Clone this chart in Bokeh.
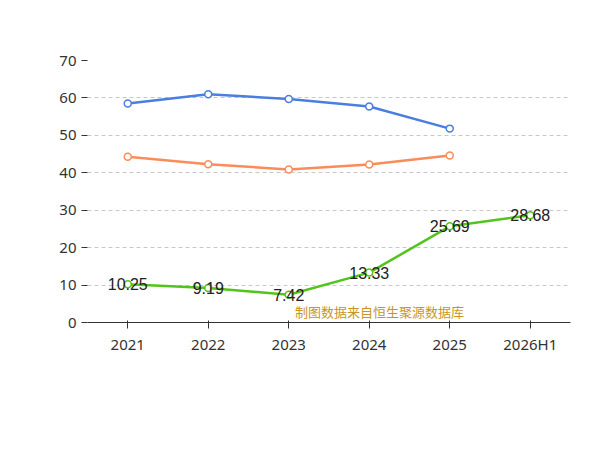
from bokeh.plotting import figure
from bokeh.models import Range1d, Label, Legend, LegendItem, ColumnDataSource, FixedTicker
from bokeh.embed import file_html
from bokeh.resources import INLINE

years = ["2021", "2022", "2023", "2024", "2025", "2026H1"]
company = [10.25, 9.19, 7.42, 13.33, 25.69, 28.68]
ind_avg = [58.5, 61.0, 59.7, 57.7, 51.8]
ind_med = [44.3, 42.3, 40.9, 42.2, 44.6]

p = figure(width=584, height=434, x_range=years, y_range=Range1d(0, 70),
           output_backend="svg", toolbar_location=None,
           min_border_left=87, min_border_right=14, min_border_top=60, min_border_bottom=112)
p.outline_line_color = None
p.xgrid.visible = False
p.ygrid.grid_line_dash = "4 3"
p.ygrid.grid_line_color = "#c8c8c8"
p.yaxis.ticker = FixedTicker(ticks=list(range(0, 71, 10)))
for ax in (p.xaxis, p.yaxis):
    ax.major_label_text_font = "Noto Sans"
    ax.major_label_text_font_size = "15px"
    ax.major_label_text_color = "#333333"
    ax.axis_line_color = "#333333"
    ax.major_tick_line_color = "#333333"
    ax.minor_tick_line_color = None
p.yaxis.axis_line_color = None
p.yaxis.major_tick_in = 0
p.yaxis.major_tick_out = 6

green, blue, orange = "#52c41a", "#4a7fe0", "#fa8c5a"
src_c = ColumnDataSource(dict(x=years, y=company, t=[f"{v:.2f}" for v in company]))
r1 = p.line("x", "y", source=src_c, color=green, line_width=2.5)
r1c = p.scatter("x", "y", source=src_c, size=7, fill_color="white", line_color=green, line_width=1.5)
r2 = p.line(years[:5], ind_avg, color=blue, line_width=2.5)
r2c = p.scatter(years[:5], ind_avg, size=7, fill_color="white", line_color=blue, line_width=1.5)
r3 = p.line(years[:5], ind_med, color=orange, line_width=2.5)
r3c = p.scatter(years[:5], ind_med, size=7, fill_color="white", line_color=orange, line_width=1.5)
p.text("x", "y", text="t", source=src_c, text_align="center", text_baseline="middle",
       text_font_size="16px", text_color="#222222")

leg = Legend(items=[LegendItem(label="公司资产负债率", renderers=[r1, r1c]),
                    LegendItem(label="行业均值", renderers=[r2, r2c]),
                    LegendItem(label="行业中位数", renderers=[r3, r3c])],
             orientation="horizontal", location=(-30, -90), border_line_color=None,
             background_fill_alpha=0,
             label_text_font="Noto Sans CJK SC", label_text_font_size="16px",
             label_text_color="#333333", glyph_width=40, spacing=20)
p.add_layout(leg)

p.add_layout(Label(x=285, y=434 - 20, x_units="screen", y_units="screen", text="近年来资产负债率情况(%)",
                   text_font="Noto Sans CJK SC", text_font_size="17px", text_font_style="bold",
                   text_align="center", text_baseline="middle", text_color="#222222"))
p.add_layout(Label(x=38, y=434 - 95, x_units="screen", y_units="screen", text="(%)", angle=-1.5708,
                   text_font="Noto Sans", text_font_size="13px", text_color="#e0602a",
                   text_align="center", text_baseline="middle"))
p.add_layout(Label(x=292, y=434 - 432, x_units="screen", y_units="screen", text="制图数据来自恒生聚源数据库",
                   text_font="Noto Sans CJK SC", text_font_size="13px", text_color="#c8961e",
                   text_align="center", text_baseline="bottom"))

open("out.html", "w").write(file_html(p, INLINE))
